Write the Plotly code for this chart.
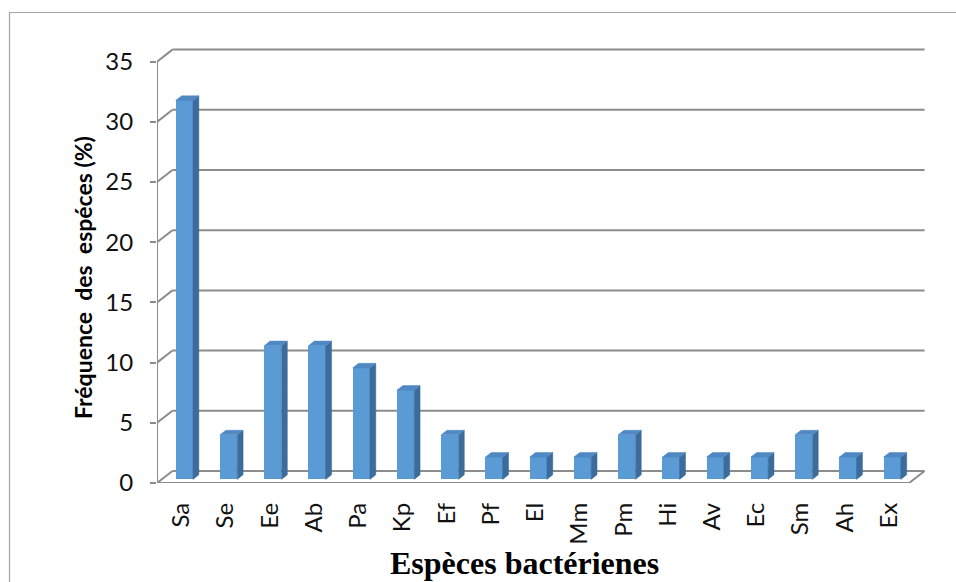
import plotly.graph_objects as go

# Bacterial species (abbreviations) and their frequency in %
species = ["Sa", "Se", "Ee", "Ab", "Pa", "Kp", "Ef", "Pf", "El", "Mm",
           "Pm", "Hi", "Av", "Ec", "Sm", "Ah", "Ex"]
frequency = [31.48, 3.70, 11.11, 11.11, 9.26, 7.41, 3.70, 1.85, 1.85, 1.85,
             3.70, 1.85, 1.85, 1.85, 3.70, 1.85, 1.85]
y_ticks = [0, 5, 10, 15, 20, 25, 30, 35]

# Pseudo-3D geometry (in axis units)
DX, DY = 0.35, 1.0          # depth vector of the chart box
F = 0.3                     # depth at which the bar front faces sit
BD = 0.38                   # bar depth as a fraction of the box depth
BW = 0.39                   # bar width (category units)
N = len(species)

FIG_W, FIG_H = 956, 582
L, R, T, B = 157, 27, 46, 99
X_RANGE = [0, 17.45]
Y_RANGE = [0, 36.3]

FRONT = "#5b9bd5"
TOP = "#4f88c3"
SIDE = "#3b6c9c"
GRID = "#8c8c8c"
TICK_FONT = dict(family="Lato", size=24, color="#111111")

fig = go.Figure()

# Front faces of the columns
centers = [i + 0.513 + F * DX for i in range(N)]
base = F * DY
fig.add_trace(go.Bar(
    x=centers, y=frequency, base=base, width=BW,
    marker=dict(color=FRONT, line=dict(width=0)),
    hoverinfo="skip", showlegend=False,
))

# Side and top faces of the columns
side_x, side_y, top_x, top_y = [], [], [], []
for c, v in zip(centers, frequency):
    xl, xr = c - BW / 2, c + BW / 2
    yb, yt = base, base + v
    ox, oy = BD * DX, BD * DY
    side_x += [xr, xr, xr + ox, xr + ox, xr, None]
    side_y += [yb, yt, yt + oy, yb + oy, yb, None]
    top_x += [xl, xr, xr + ox, xl + ox, xl, None]
    top_y += [yt, yt, yt + oy, yt + oy, yt, None]

fig.add_trace(go.Scatter(x=side_x, y=side_y, mode="lines", fill="toself",
                         fillcolor=SIDE, line=dict(color=SIDE, width=0.5),
                         hoverinfo="skip", showlegend=False))
fig.add_trace(go.Scatter(x=top_x, y=top_y, mode="lines", fill="toself",
                         fillcolor=TOP, line=dict(color=TOP, width=0.5),
                         hoverinfo="skip", showlegend=False))

# Chart box: back-wall gridlines, side-wall diagonals, floor and front axis
shapes = []
line = dict(color=GRID, width=2)
for v in y_ticks:
    shapes.append(dict(type="line", xref="x", yref="y", layer="below",
                       x0=DX, y0=v + DY, x1=N + DX, y1=v + DY, line=line))
    shapes.append(dict(type="line", xref="x", yref="y", layer="below",
                       x0=0, y0=v, x1=DX, y1=v + DY, line=line))
shapes.append(dict(type="line", xref="x", yref="y", layer="below",
                   x0=0, y0=0, x1=0, y1=y_ticks[-1], line=line))
shapes.append(dict(type="line", xref="x", yref="y", layer="below",
                   x0=0, y0=0, x1=N, y1=0, line=line))
shapes.append(dict(type="line", xref="x", yref="y", layer="below",
                   x0=N, y0=0, x1=N + DX, y1=DY, line=line))

# Outer chart border (paper coordinates derived from the margins)
plot_w = FIG_W - L - R
plot_h = FIG_H - T - B
shapes.append(dict(type="rect", xref="paper", yref="paper", layer="below",
                   x0=(9.5 - L) / plot_w, x1=(FIG_W + 20 - L) / plot_w,
                   y0=(FIG_H - B - (FIG_H + 20)) / plot_h,
                   y1=(FIG_H - B - 12.5) / plot_h,
                   line=dict(color="#a6a6a6", width=1.2)))

fig.update_layout(
    width=FIG_W, height=FIG_H,
    margin=dict(l=L, r=R, t=T, b=B, pad=0),
    paper_bgcolor="white", plot_bgcolor="rgba(0,0,0,0)",
    shapes=shapes,
    bargap=0,
    xaxis=dict(
        range=X_RANGE, showgrid=False, zeroline=False, showline=False,
        tickmode="array", tickvals=[i + 0.55 for i in range(N)],
        ticktext=species, tickangle=-90, ticks="",
        ticklabelstandoff=14,
        tickfont=TICK_FONT,
        fixedrange=True,
    ),
    yaxis=dict(
        range=Y_RANGE, showgrid=False, zeroline=False, showline=False,
        tickmode="array", tickvals=y_ticks, ticktext=[str(v) for v in y_ticks],
        ticks="outside", ticklen=6, tickwidth=2, tickcolor=GRID,
        ticklabelstandoff=12,
        tickfont=TICK_FONT,
        fixedrange=True,
    ),
    annotations=[
        dict(text="<b>Fréquence\u00a0 des\u00a0 espéces (%)</b>",
             xref="paper", yref="paper",
             x=(83 - L) / plot_w, y=(FIG_H - B - 278) / plot_h,
             xanchor="center", yanchor="middle", textangle=-90,
             showarrow=False,
             font=dict(family="Lato", size=23, color="black")),
        dict(text="<b>Espèces bactérienes</b>",
             xref="paper", yref="paper",
             x=(524.5 - L) / plot_w, y=(FIG_H - B - 563) / plot_h,
             xanchor="center", yanchor="middle", showarrow=False,
             font=dict(family="Liberation Serif", size=32, color="black")),
    ],
)

fig.write_html("out.html")
